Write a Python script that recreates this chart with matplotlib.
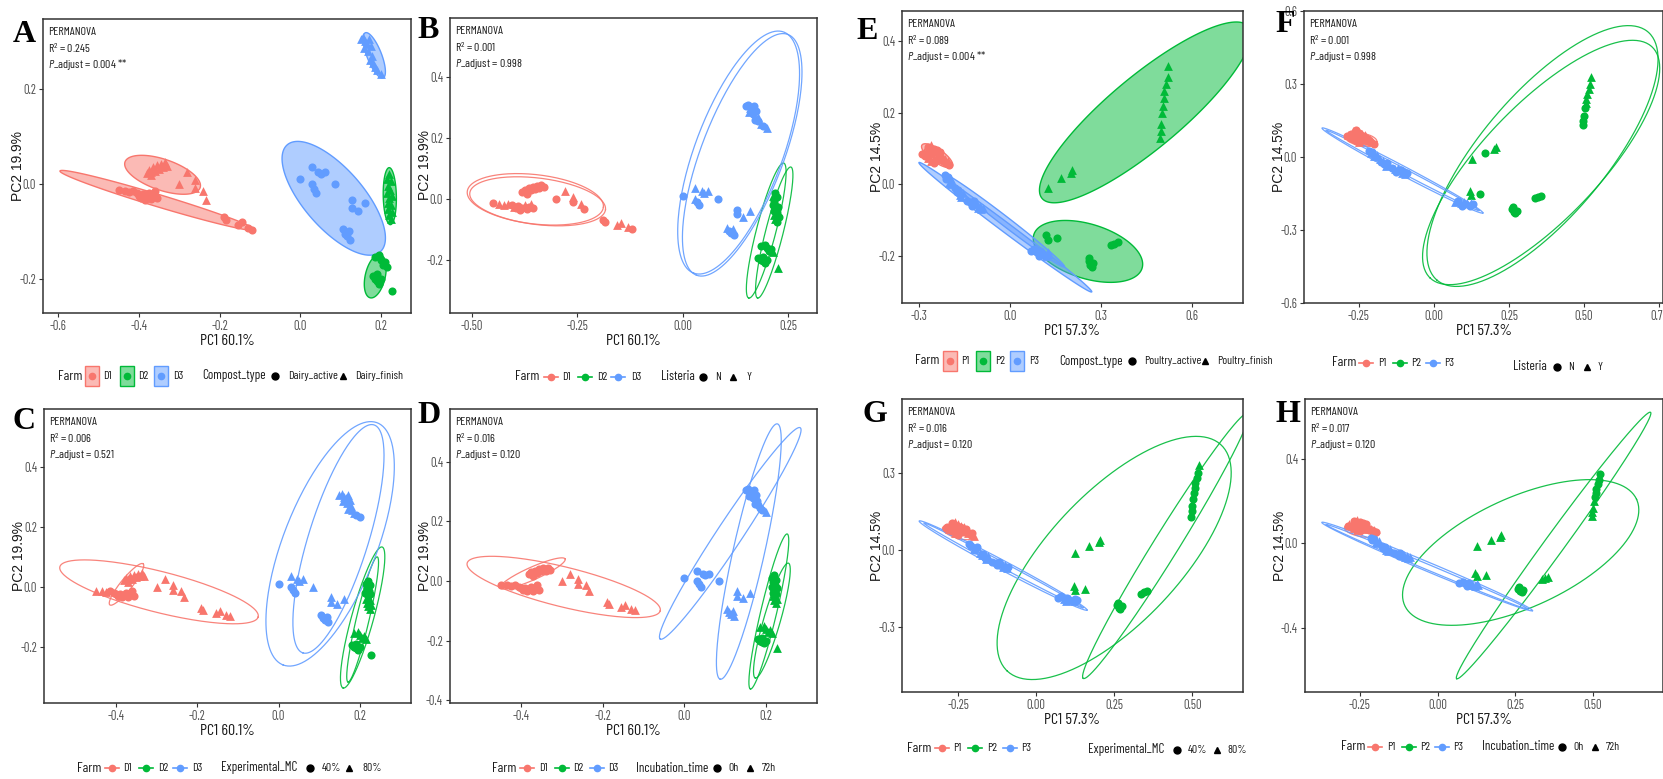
import numpy as np
import matplotlib
matplotlib.use("Agg")
import matplotlib.pyplot as plt
from matplotlib import font_manager
from matplotlib.colors import to_rgba
from matplotlib.lines import Line2D
from matplotlib.patches import Rectangle
from matplotlib.transforms import offset_copy

W, H = 1663, 779

# narrow sans for all labels; fall back to whatever condensed face exists
installed = {f.name for f in font_manager.fontManager.ttflist}
SANS = "Liberation Sans"
for name in ["Barlow Condensed", "Archivo Condensed", "Roboto Condensed", "Barlow Semi Condensed"]:
    if name in installed:
        SANS = name
        break
plt.rcParams["font.family"] = [SANS, "DejaVu Sans"]
plt.rcParams["mathtext.fontset"] = "custom"
plt.rcParams["mathtext.rm"] = SANS
plt.rcParams["mathtext.it"] = SANS + ":italic"

COLORS = {"1": "#F8766D", "2": "#00BA38", "3": "#619CFF"}

# ---- dairy PCoA scores (farm D1, D2, D3) ----
d1_pc1 = [-0.415, -0.405, -0.40, -0.395, -0.39, -0.385, -0.38, -0.375, -0.37, -0.365, -0.36, -0.355,
          -0.45, -0.435, -0.425,
          -0.38, -0.375, -0.37, -0.365, -0.36, -0.355, -0.35, -0.345, -0.34, -0.335, -0.33, -0.37,
          -0.30, -0.28, -0.26, -0.26, -0.24, -0.233,
          -0.19, -0.185, -0.155, -0.145, -0.13, -0.12]
d1_pc2 = [-0.015, -0.02, -0.025, -0.03, -0.022, -0.035, -0.028, -0.02, -0.032, -0.025, -0.015, -0.03,
          -0.012, -0.015, -0.018,
          0.022, 0.03, 0.025, 0.035, 0.028, 0.04, 0.032, 0.042, 0.035, 0.045, 0.038, 0.018,
          0.0, 0.025, 0.008, -0.009, -0.015, -0.034,
          -0.069, -0.077, -0.086, -0.08, -0.093, -0.097]
d1_compost = "AAAAAAAAAAAA" "AAA" "FFFFFFFFFFFF" "FFFFFF" "AAAAAA"
d1_mc = "444444444444" "888" "888888888888" "888888" "888888"
d1_time = "000000000000" "000" "000000000000" "777777" "777777"
d1_listeria = "YNYNNNNYNNYN" "NYY" "NNNNNNNNNNNN" "NYYNYN" "NNYYYN"

d2_pc1 = [0.22, 0.215, 0.225, 0.218, 0.222, 0.214, 0.226, 0.22, 0.216, 0.224, 0.218, 0.228, 0.22, 0.224,
          0.185, 0.195, 0.2, 0.21, 0.205, 0.215, 0.18, 0.185, 0.19, 0.195, 0.2, 0.19, 0.227]
d2_pc2 = [0.02, 0.01, 0.005, -0.005, -0.012, -0.02, -0.025, -0.03, -0.04, -0.045, -0.052, -0.06, -0.065, -0.075,
          -0.155, -0.15, -0.16, -0.165, -0.17, -0.175, -0.195, -0.2, -0.205, -0.21, -0.2, -0.19, -0.226]
d2_compost = "FFFFFFFFFFFFFF" "AAAAAAAAAAAAA"
d2_mc = "44444444888888" "8888884444444"
d2_time = "00000000007777" "7777770000007"
d2_listeria = "NYNNYNNYNNYNYN" "NNNNNYNNNNNNY"

d3_pc1 = [0.15, 0.155, 0.16, 0.165, 0.17, 0.158, 0.168, 0.175, 0.178, 0.172, 0.18, 0.185, 0.19, 0.2,
          0.0, 0.03, 0.045, 0.03, 0.035, 0.04, 0.05, 0.06, 0.085, 0.128, 0.128, 0.143, 0.16,
          0.105, 0.11, 0.115, 0.12, 0.122]
d3_pc2 = [0.305, 0.31, 0.3, 0.295, 0.305, 0.285, 0.28, 0.29, 0.27, 0.26, 0.255, 0.245, 0.24, 0.232,
          0.01, 0.035, 0.025, 0.0, -0.01, -0.02, 0.02, 0.025, 0.0, -0.035, -0.05, -0.058, -0.04,
          -0.095, -0.105, -0.11, -0.1, -0.118]
d3_compost = "FFFFFFFFFFFFFF" "AAAAAAAAAAAAA" "AAAAA"
d3_mc = "88888888888844" "4884448888888" "44444"
d3_time = "00000000000007" "0000000007777" "77777"
d3_listeria = "NNYNNYNNYNNYNY" "NYYYNNYYNNNYY" "YNNYN"

# ---- poultry PCoA scores (farm P1, P2, P3) ----
p1_pc1 = [-0.29, -0.285, -0.28, -0.275, -0.27, -0.27, -0.265, -0.26, -0.26, -0.255, -0.25, -0.25, -0.245, -0.24,
          -0.24, -0.235, -0.23, -0.225, -0.22, -0.215, -0.21, -0.205, -0.2, -0.26, -0.25, -0.24, -0.23, -0.22]
p1_pc2 = [0.085, 0.09, 0.08, 0.095, 0.105, 0.075, 0.1, 0.11, 0.085, 0.095, 0.1, 0.075, 0.09, 0.08,
          0.095, 0.085, 0.07, 0.08, 0.065, 0.07, 0.06, 0.065, 0.055, 0.065, 0.06, 0.07, 0.09, 0.075]
p1_compost = "AFAFAFAFAFAFAF" "AFAFAFAFAFAFAF"
p1_mc = "44884488448844" "88448844884488"
p1_time = "07070707070707" "07070707070707"
p1_listeria = "NYNNYNYNNYNYNN" "YNYNNYNYNNYNYN"

p2_pc1 = [0.126, 0.17, 0.2, 0.205, 0.12, 0.125, 0.155, 0.26, 0.265, 0.27, 0.262, 0.275, 0.335, 0.345, 0.355,
          0.495, 0.498, 0.5, 0.503, 0.506, 0.508, 0.51, 0.515, 0.52, 0.523]
p2_pc2 = [-0.01, 0.017, 0.031, 0.04, -0.14, -0.155, -0.15, -0.215, -0.225, -0.23, -0.205, -0.22, -0.17, -0.165, -0.16,
          0.13, 0.15, 0.17, 0.2, 0.22, 0.24, 0.26, 0.28, 0.3, 0.33]
p2_compost = "FFFF" "AAA" "AAAAA" "AAA" "FFFFFFFFFF"
p2_mc = "8888" "888" "44444" "444" "4444444448"
p2_time = "7777" "777" "00000" "777" "7777000000"
p2_listeria = "YNYY" "YYN" "NNNNN" "NNN" "NNNNYYYYYY"

p3_pc1 = [-0.215, -0.21, -0.205, -0.2, -0.195, -0.19, -0.18, -0.175, -0.17, -0.165, -0.16, -0.155,
          -0.14, -0.13, -0.125, -0.12, -0.11, -0.105, -0.1, -0.095, -0.09,
          0.07, 0.08, 0.09, 0.095, 0.1, 0.105, 0.11, 0.12, 0.125, 0.13]
p3_pc2 = [0.025, 0.015, 0.02, 0.005, 0.0, 0.01, -0.01, -0.02, -0.015, -0.03, -0.035, -0.025,
          -0.045, -0.05, -0.06, -0.045, -0.055, -0.065, -0.06, -0.07, -0.065,
          -0.185, -0.18, -0.19, -0.2, -0.185, -0.195, -0.19, -0.2, -0.19, -0.195]
p3_compost = "AAAFFF" "AAAFFF" "AAAAFFFFF" "AAAAAFFFFF"
p3_mc = "448844" "884488" "444488884" "4488448844"
p3_time = "000777" "000777" "000077777" "0000077777"
p3_listeria = "NYNYNY" "YNYNYN" "NYNYNYNYN" "YNYNYNYNYN"

# 95% ellipses: farm, major-axis tip 1 (x, y), tip 2 (x, y), minor/major ratio
ell_A = [("1", -0.595, 0.027, -0.112, -0.097, 0.06), ("1", -0.434, 0.046, -0.248, -0.008, 0.39),
         ("2", 0.22, 0.034, 0.223, -0.086, 0.23), ("2", 0.198, -0.149, 0.173, -0.24, 0.45),
         ("3", -0.0325, 0.082, 0.198, -0.143, 0.42), ("3", 0.161, 0.318, 0.205, 0.223, 0.3)]
ell_B = [("1", -0.511, 0.025, -0.188, -0.027, 0.36), ("1", -0.505, 0.02, -0.183, -0.035, 0.34),
         ("2", 0.24, 0.118, 0.157, -0.325, 0.14), ("2", 0.257, 0.105, 0.178, -0.325, 0.13),
         ("3", 0.24, 0.548, 0.026, -0.243, 0.34), ("3", 0.25, 0.54, 0.033, -0.25, 0.32)]
ell_C = [("1", -0.538, 0.067, -0.05, -0.1, 0.2), ("1", -0.415, -0.06, -0.333, 0.077, 0.22),
         ("2", 0.255, 0.133, 0.159, -0.337, 0.15), ("2", 0.243, 0.1, 0.171, -0.317, 0.1),
         ("3", 0.243, 0.547, 0.011, -0.26, 0.36), ("3", 0.235, 0.54, 0.06, -0.22, 0.25)]
ell_D = [("1", -0.532, 0.06, -0.059, -0.1, 0.2), ("1", -0.451, -0.023, -0.292, 0.074, 0.18),
         ("2", 0.252, 0.158, 0.162, -0.363, 0.1), ("2", 0.255, 0.06, 0.174, -0.326, 0.14),
         ("3", 0.228, 0.528, 0.088, -0.33, 0.12), ("3", 0.284, 0.515, -0.059, -0.195, 0.1)]
ell_E = [("1", -0.29, 0.11, -0.19, 0.05, 0.35),
         ("2", 0.106, -0.039, 0.787, 0.441, 0.27), ("2", 0.079, -0.14, 0.436, -0.234, 0.48),
         ("3", -0.3, 0.061, 0.27, -0.3, 0.045), ("3", -0.22, 0.03, 0.18, -0.23, 0.06)]
ell_F = [("1", -0.293, 0.082, -0.19, 0.062, 0.4), ("1", -0.29, 0.09, -0.2, 0.05, 0.3),
         ("2", 0.713, 0.514, 0.01, -0.506, 0.38), ("2", 0.727, 0.452, -0.013, -0.497, 0.36),
         ("3", -0.373, 0.119, 0.163, -0.23, 0.05), ("3", -0.36, 0.11, 0.15, -0.22, 0.03)]
ell_G = [("1", -0.3, 0.086, -0.2, 0.05, 0.35),
         ("2", 0.593, 0.409, -0.093, -0.471, 0.42), ("2", 0.68, 0.534, 0.151, -0.5, 0.08),
         ("3", -0.375, 0.113, 0.163, -0.234, 0.05), ("3", -0.36, 0.105, 0.15, -0.225, 0.03)]
ell_H = [("1", -0.3, 0.076, -0.187, 0.047, 0.35),
         ("2", -0.106, -0.294, 0.64, 0.209, 0.43), ("2", 0.685, 0.621, 0.061, -0.64, 0.06),
         ("3", -0.373, 0.1, 0.305, -0.318, 0.04), ("3", -0.36, 0.09, 0.29, -0.31, 0.025)]

dairy = dict(
    pc1=d1_pc1 + d2_pc1 + d3_pc1, pc2=d1_pc2 + d2_pc2 + d3_pc2,
    farm="1" * len(d1_pc1) + "2" * len(d2_pc1) + "3" * len(d3_pc1),
    compost=d1_compost + d2_compost + d3_compost, mc=d1_mc + d2_mc + d3_mc,
    time=d1_time + d2_time + d3_time, listeria=d1_listeria + d2_listeria + d3_listeria,
    farms=["D1", "D2", "D3"], xlab="PC1 60.1%", ylab="PC2 19.9%")
poultry = dict(
    pc1=p1_pc1 + p2_pc1 + p3_pc1, pc2=p1_pc2 + p2_pc2 + p3_pc2,
    farm="1" * len(p1_pc1) + "2" * len(p2_pc1) + "3" * len(p3_pc1),
    compost=p1_compost + p2_compost + p3_compost, mc=p1_mc + p2_mc + p3_mc,
    time=p1_time + p2_time + p3_time, listeria=p1_listeria + p2_listeria + p3_listeria,
    farms=["P1", "P2", "P3"], xlab="PC1 57.3%", ylab="PC2 14.5%")

CIRCLE = set("AN40")
legend_titles = {"compost": "Compost_type", "listeria": "Listeria", "mc": "Experimental_MC", "time": "Incubation_time"}
legend_levels = {"listeria": ["N", "Y"], "mc": ["40%", "80%"], "time": ["0h", "72h"]}

panels = [
    dict(tag="A", d=dairy, attr="compost", ell=ell_A, filled=True, box=(43, 19, 411, 313),
         xlim=(-0.637, 0.274), ylim=(-0.272, 0.347),
         xt=[-0.6, -0.4, -0.2, 0.0, 0.2], xtl=["-0.6", "-0.4", "-0.2", "0.0", "0.2"],
         yt=[-0.2, 0.0, 0.2], ytl=["-0.2", "0.0", "0.2"], r2="0.245", p="0.004 **", letter=(13, 42),
         leg=dict(y=376, tx=58, keys=[92, 127, 161], labs=[103, 138, 173], sy=376, stx=202,
                  skeys=[275, 343], slabs=[288, 355], names=["Dairy_active", "Dairy_finish"])),
    dict(tag="B", d=dairy, attr="listeria", ell=ell_B, filled=False, box=(450, 18, 817, 313),
         xlim=(-0.552, 0.319), ylim=(-0.374, 0.594),
         xt=[-0.5, -0.25, 0.0, 0.25], xtl=["-0.50", "-0.25", "0.00", "0.25"],
         yt=[-0.2, 0.0, 0.2, 0.4], ytl=["-0.2", "0.0", "0.2", "0.4"], r2="0.001", p="0.998", letter=(417, 38),
         leg=dict(y=377, tx=515, keys=[551, 585, 618], labs=[562, 597, 631], sy=377, stx=661,
                  skeys=[703, 733], slabs=[715, 747], names=None)),
    dict(tag="C", d=dairy, attr="mc", ell=ell_C, filled=False, box=(44, 409, 411, 703),
         xlim=(-0.577, 0.326), ylim=(-0.387, 0.593),
         xt=[-0.4, -0.2, 0.0, 0.2], xtl=["-0.4", "-0.2", "0.0", "0.2"],
         yt=[-0.2, 0.0, 0.2, 0.4], ytl=["-0.2", "0.0", "0.2", "0.4"], r2="0.006", p="0.521", letter=(13, 429),
         leg=dict(y=768, tx=77, keys=[112, 146, 180], labs=[123, 158, 192], sy=768, stx=221,
                  skeys=[310, 349], slabs=[322, 362], names=None)),
    dict(tag="D", d=dairy, attr="time", ell=ell_D, filled=False, box=(450, 409, 817, 703),
         xlim=(-0.574, 0.325), ylim=(-0.41, 0.578),
         xt=[-0.4, -0.2, 0.0, 0.2], xtl=["-0.4", "-0.2", "0.0", "0.2"],
         yt=[-0.4, -0.2, 0.0, 0.2, 0.4], ytl=["-0.4", "-0.2", "0.0", "0.2", "0.4"], r2="0.016", p="0.120",
         letter=(417, 423),
         leg=dict(y=768, tx=492, keys=[527, 562, 597], labs=[539, 573, 608], sy=768, stx=636,
                  skeys=[717, 750], slabs=[728, 762], names=None)),
    dict(tag="E", d=poultry, attr="compost", ell=ell_E, filled=True, box=(902, 11, 1243, 303),
         xlim=(-0.356, 0.769), ylim=(-0.331, 0.484),
         xt=[-0.3, 0.0, 0.3, 0.6], xtl=["-0.3", "0.0", "0.3", "0.6"],
         yt=[-0.2, 0.0, 0.2, 0.4], ytl=["-0.2", "0.0", "0.2", "0.4"], r2="0.089", p="0.004 **", letter=(856, 39),
         leg=dict(y=361, tx=915, keys=[950, 983, 1017], labs=[961, 995, 1029], sy=361, stx=1059,
                  skeys=[1132, 1205], slabs=[1144, 1217], names=["Poultry_active", "Poultry_finish"])),
    dict(tag="F", d=poultry, attr="listeria", ell=ell_F, filled=False, box=(1304, 11, 1663, 303),
         xlim=(-0.433, 0.763), ylim=(-0.6, 0.6),
         xt=[-0.25, 0.0, 0.25, 0.5, 0.75], xtl=["-0.25", "0.00", "0.25", "0.50", "0.75"],
         yt=[-0.6, -0.3, 0.0, 0.3, 0.6], ytl=["-0.6", "-0.3", "0.0", "0.3", "0.6"], r2="0.001", p="0.998",
         letter=(1275, 32),
         leg=dict(y=363, tx=1332, keys=[1366, 1400, 1433], labs=[1378, 1411, 1444], sy=367, stx=1513,
                  skeys=[1557, 1587], slabs=[1568, 1598], names=None)),
    dict(tag="G", d=poultry, attr="mc", ell=ell_G, filled=False, box=(902, 399, 1243, 692),
         xlim=(-0.43, 0.663), ylim=(-0.553, 0.588),
         xt=[-0.25, 0.0, 0.25, 0.5], xtl=["-0.25", "0.00", "0.25", "0.50"],
         yt=[-0.3, 0.0, 0.3], ytl=["-0.3", "0.0", "0.3"], r2="0.016", p="0.120", letter=(862, 422),
         leg=dict(y=748, tx=907, keys=[942, 975, 1010], labs=[953, 987, 1021], sy=750, stx=1088,
                  skeys=[1177, 1217], slabs=[1188, 1227], names=None)),
    dict(tag="H", d=poultry, attr="time", ell=ell_H, filled=False, box=(1305, 399, 1663, 692),
         xlim=(-0.427, 0.725), ylim=(-0.703, 0.684),
         xt=[-0.25, 0.0, 0.25, 0.5], xtl=["-0.25", "0.00", "0.25", "0.50"],
         yt=[-0.4, 0.0, 0.4], ytl=["-0.4", "0.0", "0.4"], r2="0.017", p="0.120", letter=(1275, 422),
         leg=dict(y=747, tx=1341, keys=[1375, 1409, 1442], labs=[1387, 1420, 1453], sy=747, stx=1482,
                  skeys=[1562, 1595], slabs=[1573, 1606], names=None)),
]

fig = plt.figure(figsize=(W / 100, H / 100), dpi=100)


def fx(x):
    return x / W


def fy(y):
    return 1 - y / H


def ellipse_points(ax, x1, y1, x2, y2, ratio):
    # build the ellipse in screen space so the minor axis stays perpendicular on screen
    p = ax.transData.transform([(x1, y1), (x2, y2)])
    c = p.mean(axis=0)
    u = (p[1] - p[0]) / 2
    v = ratio * np.array([-u[1], u[0]])
    t = np.linspace(0, 2 * np.pi, 240)
    pts = c + np.outer(np.cos(t), u) + np.outer(np.sin(t), v)
    return ax.transData.inverted().transform(pts)


def ftext(x, y, s, size, **kw):
    fig.text(fx(x), fy(y), s, ha="left", va="center", fontsize=size, color="#1a1a1a", **kw)


for pn in panels:
    l, t, r, b = pn["box"]
    aw, ah = r - l, b - t
    ax = fig.add_axes([fx(l), fy(b), aw / W, ah / H])
    ax.set_xlim(*pn["xlim"])
    ax.set_ylim(*pn["ylim"])
    ax.set_xticks(pn["xt"])
    ax.set_xticklabels(pn["xtl"])
    ax.set_yticks(pn["yt"])
    ax.set_yticklabels(pn["ytl"])
    ax.tick_params(length=3, width=0.8, color="#333333", labelsize=9, labelcolor="#4D4D4D", pad=2)
    for s in ax.spines.values():
        s.set_color("#333333")
        s.set_linewidth(1.1)
    d = pn["d"]
    ax.set_xlabel(d["xlab"], fontsize=11.5, color="#1a1a1a", va="center")
    ax.xaxis.set_label_coords(0.5, -28 / ah)
    ax.set_ylabel(d["ylab"], fontsize=10, color="#1a1a1a", family="Liberation Sans",
                  va="center", ha="center")
    ax.yaxis.set_label_coords(-25 / aw, 0.5)

    for farm, x1, y1, x2, y2, ratio in pn["ell"]:
        e = ellipse_points(ax, x1, y1, x2, y2, ratio)
        col = COLORS[farm]
        if pn["filled"]:
            ax.fill(e[:, 0], e[:, 1], facecolor=to_rgba(col, 0.5), edgecolor=col, lw=1.0, zorder=1)
        else:
            ax.plot(e[:, 0], e[:, 1], color=col, lw=0.9, alpha=0.9, zorder=1)

    pc1 = np.array(d["pc1"])
    pc2 = np.array(d["pc2"])
    farm = np.array(list(d["farm"]))
    code = np.array([c in CIRCLE for c in d[pn["attr"]]])
    for f in "123":
        m = farm == f
        ax.scatter(pc1[m & code], pc2[m & code], s=34, marker="o", color=COLORS[f], lw=0, zorder=3)
        ax.scatter(pc1[m & ~code], pc2[m & ~code], s=40, marker="^", color=COLORS[f], lw=0, zorder=3)

    tr = ax.transAxes
    ax.text(0, 1, "PERMANOVA", transform=offset_copy(tr, fig=fig, x=5, y=-13, units="dots"),
            va="center", ha="left", fontsize=8.5, color="#1a1a1a")
    ax.text(0, 1, "R$^2$ = " + pn["r2"], transform=offset_copy(tr, fig=fig, x=5, y=-29, units="dots"),
            va="center", ha="left", fontsize=8.5, color="#1a1a1a")
    ax.text(0, 1, "$\\mathit{P}$_adjust = " + pn["p"], transform=offset_copy(tr, fig=fig, x=5, y=-46, units="dots"),
            va="center", ha="left", fontsize=8.5, color="#1a1a1a")

    lx, ly = pn["letter"]
    fig.text(fx(lx), fy(ly), pn["tag"], fontsize=23, fontweight="bold", family="Liberation Serif",
             va="baseline", ha="left")

    # legends drawn beneath each panel
    lg = pn["leg"]
    y = lg["y"]
    ftext(lg["tx"], y, "Farm", 10)
    for f, kx, tx, lab in zip("123", lg["keys"], lg["labs"], d["farms"]):
        col = COLORS[f]
        if pn["filled"]:
            fig.add_artist(Rectangle((fx(kx - 7), fy(y + 10)), 14 / W, 20 / H, transform=fig.transFigure,
                                     facecolor=to_rgba(col, 0.5), edgecolor=col, lw=1.0))
        else:
            fig.add_artist(Line2D([fx(kx - 7), fx(kx + 7)], [fy(y), fy(y)], transform=fig.transFigure,
                                  color=col, lw=1.2))
        fig.add_artist(Line2D([fx(kx)], [fy(y)], transform=fig.transFigure, marker="o", ms=4.5,
                              color=col, lw=0))
        ftext(tx, y, lab, 8.5)
    sy = lg["sy"]
    ftext(lg["stx"], sy, legend_titles[pn["attr"]], 9.5)
    names = lg["names"] or legend_levels[pn["attr"]]
    for kx, tx, mk, lab in zip(lg["skeys"], lg["slabs"], ["o", "^"], names):
        fig.add_artist(Line2D([fx(kx)], [fy(sy)], transform=fig.transFigure, marker=mk, ms=5,
                              color="black", lw=0))
        ftext(tx, sy, lab, 8.5)

fig.savefig("out.png", dpi=100)
